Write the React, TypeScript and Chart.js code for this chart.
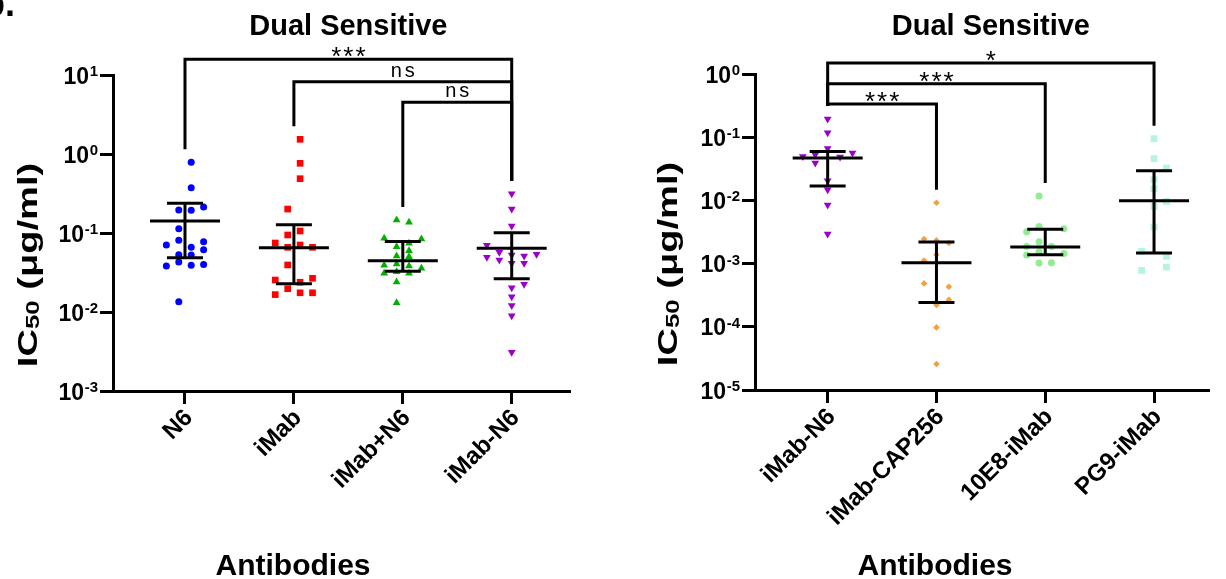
import React, { useEffect, useRef } from 'react';
import { Chart, registerables } from 'chart.js';

Chart.register(...registerables);

const FONT = '"Liberation Sans", Arial, Helvetica, sans-serif';

// ---------- Left panel data ----------
const leftCategories = ['N6', 'iMab', 'iMab+N6', 'iMab-N6'];
const leftYTicks = [1e-3, 1e-2, 1e-1, 1, 10];

const n6Values = [0.785, 0.374, 0.195, 0.194, 0.213, 0.113, 0.081, 0.0705, 0.066, 0.0776, 0.0615, 0.0531, 0.0525, 0.0382, 0.043, 0.039, 0.04, 0.0135];
const n6Cols = [0.5, 0.5, -0.5, 0.5, 1.5, -0.5, -0.5, -1.5, 0.5, 1.5, 1.5, -0.5, 0.5, -1.5, -0.5, 0.5, 1.5, -0.5];

const iMabValues = [1.535, 0.762, 0.487, 0.201, 0.106, 0.0944, 0.0747, 0.0659, 0.0705, 0.0659, 0.0394, 0.0254, 0.0267, 0.0238, 0.0197, 0.0166, 0.0175, 0.0175];
const iMabCols = [0.5, 0.5, 0.5, -0.5, 0.5, -0.5, -1.5, -0.5, 0.5, 1.5, -0.5, -1.5, 1.5, 0.5, -0.5, -1.5, 0.5, 1.5];

const iMabPlusN6Values = [0.146, 0.137, 0.0857, 0.084, 0.067, 0.074, 0.0597, 0.0512, 0.0501, 0.039, 0.0405, 0.0382, 0.0357, 0.0309, 0.0324, 0.0309, 0.024, 0.0131];
const iMabPlusN6Cols = [-0.5, 0.5, -1.5, 1.5, -0.5, 0.5, 0.5, -0.5, 0.5, -1.5, -0.5, 0.5, 1.5, -1.5, -0.5, 0.5, -0.5, -0.5];

const iMabN6LeftValues = [0.314, 0.201, 0.1225, 0.0698, 0.0569, 0.0526, 0.0511, 0.0537, 0.0492, 0.0455, 0.0413, 0.0413, 0.0203, 0.0224, 0.0156, 0.0121, 0.00898, 0.00309];
const iMabN6LeftCols = [0, 0, 0, -2, -1, 0, 1, 2, -2, -1, 0, 1, 0, 1, 0, 0, 0, 0];

const leftMeans = [0.142, 0.065, 0.0446, 0.064];
const leftSDHigh = [0.238, 0.127, 0.078, 0.1007];
const leftSDLow = [0.0487, 0.0228, 0.0327, 0.0264];

const leftComparisons = [
  { from: 0, to: 3, label: '***' },
  { from: 1, to: 3, label: 'ns' },
  { from: 2, to: 3, label: 'ns' },
];

// ---------- Right panel data ----------
const rightCategories = ['iMab-N6', 'iMab-CAP256', '10E8-iMab', 'PG9-iMab'];
const rightYTicks = [1e-5, 1e-4, 1e-3, 1e-2, 1e-1, 1];

const iMabN6RightValues = [0.194, 0.118, 0.0665, 0.0497, 0.0528, 0.0562, 0.0486, 0.0391, 0.0205, 0.0148, 0.00845, 0.00294];
const iMabN6RightCols = [0, 0, 0, -2, -1, 2, 1, -1, 0, 0, 0, 0];

const cap256Values = [0.0092, 0.00245, 0.00233, 0.00212, 0.00138, 0.00112, 0.000486, 0.000431, 0.000268, 0.000221, 0.0000979, 0.0000258];
const cap256Cols = [0, -1, 0, 1, 0, -1, -1, 1, 1, 0, 0, 0];

const e10E8Values = [0.01174, 0.00388, 0.0032, 0.00357, 0.00222, 0.00187, 0.00187, 0.00137, 0.00154, 0.00145, 0.00102, 0.00103];
const e10E8Cols = [-0.5, -0.5, -1.5, 1.5, -0.5, -1.5, 0.5, -1.5, -0.5, 1.5, -0.5, 0.5];

const pg9Values = [0.0947, 0.0457, 0.0326, 0.0213, 0.0153, 0.00964, 0.00804, 0.00379, 0.00156, 0.0013, 0.00078, 0.000883];
const pg9Cols = [0, 0, 1, 0, 0, 1, 0, 0, -1, 1, -1, 1];

const rightMeans = [0.0469, 0.00103, 0.00183, 0.00989];
const rightSDHigh = [0.0596, 0.0022, 0.00348, 0.0295];
const rightSDLow = [0.0169, 0.000243, 0.00138, 0.00147];

const rightComparisons = [
  { from: 0, to: 3, label: '*' },
  { from: 0, to: 2, label: '***' },
  { from: 0, to: 1, label: '***' },
];

const COL_STEP = 0.114;

type Group = { values: number[]; cols: number[]; color: string; style: string; radius: number; rotation?: number };

function buildDatasets(groups: Group[]) {
  return groups.map((g, gi) => ({
    data: g.values.map((v, i) => ({ x: gi + g.cols[i] * COL_STEP, y: v })),
    pointStyle: g.style,
    pointRadius: g.radius,
    pointRotation: g.rotation || 0,
    pointBackgroundColor: g.color,
    pointBorderWidth: 0,
    pointBorderColor: g.color,
    showLine: false,
    clip: false as any,
  }));
}

type PanelCfg = {
  canvasWidth: number;
  groups: Group[];
  categories: string[];
  yTicks: number[];
  yMin: number;
  yMax: number;
  xMin: number;
  xMax: number;
  padTop: number;
  padRight: number;
  yWidth: number;
  xHeight: number;
  means: number[];
  highs: number[];
  lows: number[];
  comparisons: { from: number; to: number; label: string }[];
  bracketOffsets: number[];
  yTitleDx: number;
  showPanelLetter: boolean;
};

function line(ctx: CanvasRenderingContext2D, x1: number, y1: number, x2: number, y2: number) {
  ctx.beginPath();
  ctx.moveTo(x1, y1);
  ctx.lineTo(x2, y2);
  ctx.stroke();
}

function makeDecor(cfg: PanelCfg) {
  return {
    id: 'decor',
    afterDraw(chart: any) {
      const ctx: CanvasRenderingContext2D = chart.ctx;
      const xs = chart.scales.x;
      const ys = chart.scales.y;
      const ca = chart.chartArea;
      ctx.save();
      ctx.strokeStyle = '#000';
      ctx.fillStyle = '#000';
      ctx.lineWidth = 3;
      ctx.lineCap = 'butt';
      ctx.lineJoin = 'miter';

      // mean +/- SD
      cfg.means.forEach((m, i) => {
        const cx = xs.getPixelForValue(i);
        const yM = ys.getPixelForValue(m);
        const yH = ys.getPixelForValue(cfg.highs[i]);
        const yL = ys.getPixelForValue(cfg.lows[i]);
        line(ctx, cx - 35, yM, cx + 35, yM);
        line(ctx, cx, yH, cx, yL);
        line(ctx, cx - 18, yH, cx + 18, yH);
        line(ctx, cx - 18, yL, cx + 18, yL);
      });

      // significance brackets
      cfg.comparisons.forEach((c, k) => {
        const y = ca.top + cfg.bracketOffsets[k];
        const x1 = xs.getPixelForValue(c.from);
        const x2 = xs.getPixelForValue(c.to);
        const top1 = ys.getPixelForValue(Math.max(...cfg.groups[c.from].values)) - 13;
        const top2 = ys.getPixelForValue(Math.max(...cfg.groups[c.to].values)) - 13;
        ctx.beginPath();
        ctx.moveTo(x1, top1);
        ctx.lineTo(x1, y);
        ctx.lineTo(x2, y);
        ctx.lineTo(x2, top2);
        ctx.stroke();
        const mid = (x1 + x2) / 2;
        ctx.textAlign = 'center';
        ctx.textBaseline = 'alphabetic';
        if (c.label.indexOf('*') >= 0) {
          ctx.font = `26px ${FONT}`;
          (ctx as any).letterSpacing = '2px';
          ctx.fillText(c.label, mid + 1, y + 6);
        } else {
          ctx.font = `20px ${FONT}`;
          (ctx as any).letterSpacing = '3px';
          ctx.fillText(c.label, mid + 1.5, y - 5);
        }
        (ctx as any).letterSpacing = '0px';
      });

      // y tick labels with superscript exponents
      cfg.yTicks.forEach((v) => {
        const exp = Math.round(Math.log10(v));
        const y = ys.getPixelForValue(v);
        const right = ca.left - 15;
        ctx.textAlign = 'right';
        ctx.textBaseline = 'alphabetic';
        ctx.font = `bold 15px ${FONT}`;
        const expStr = exp < 0 ? '-' + String(-exp) : String(exp);
        const ew = ctx.measureText(expStr).width;
        ctx.fillText(expStr, right, y + 1);
        ctx.font = `bold 23px ${FONT}`;
        ctx.fillText('10', right - ew - 0.5, y + 8.5);
      });

      // title
      const cMid = (xs.getPixelForValue(0) + xs.getPixelForValue(cfg.categories.length - 1)) / 2;
      ctx.textAlign = 'center';
      ctx.textBaseline = 'alphabetic';
      ctx.font = `bold 29px ${FONT}`;
      ctx.fillText('Dual Sensitive', cMid, 35);

      // x title
      ctx.font = `bold 30px ${FONT}`;
      ctx.fillText('Antibodies', ca.left + 180, 575);

      // y title (rotated, with subscript)
      ctx.save();
      ctx.translate(ca.left + cfg.yTitleDx, ca.top + 190);
      ctx.rotate(-Math.PI / 2);
      ctx.scale(1.36, 1);
      ctx.textAlign = 'left';
      ctx.font = `bold 28px ${FONT}`;
      const wIC = ctx.measureText('IC').width;
      const rest = ' (\u03bcg/ml)';
      const wRest = ctx.measureText(rest).width;
      ctx.font = `bold 19px ${FONT}`;
      const wSub = ctx.measureText('50').width;
      const total = wIC + wSub + wRest;
      let x0 = -total / 2;
      ctx.font = `bold 28px ${FONT}`;
      ctx.fillText('IC', x0, 0);
      x0 += wIC;
      ctx.font = `bold 19px ${FONT}`;
      ctx.fillText('50', x0, 2);
      x0 += wSub;
      ctx.font = `bold 28px ${FONT}`;
      ctx.fillText(rest, x0, 0);
      ctx.restore();

      if (cfg.showPanelLetter) {
        ctx.textAlign = 'left';
        ctx.font = `bold 36px ${FONT}`;
        ctx.fillText('b.', -17, 16);
      }
      ctx.restore();
    },
  };
}

function Panel({ cfg, left }: { cfg: PanelCfg; left: number }) {
  const ref = useRef<HTMLCanvasElement | null>(null);
  useEffect(() => {
    if (!ref.current) return;
    const axisCommon = {
      grid: { drawOnChartArea: false, drawTicks: true, tickLength: 13, color: '#000', lineWidth: 3 },
      border: { display: true, color: '#000', width: 3 },
    };
    const chart = new Chart(ref.current, {
      type: 'scatter',
      data: { datasets: buildDatasets(cfg.groups) as any },
      options: {
        responsive: false,
        animation: false,
        devicePixelRatio: 1,
        layout: { padding: { left: 0, right: cfg.padRight, top: cfg.padTop, bottom: 0 } },
        plugins: { legend: { display: false }, tooltip: { enabled: false }, title: { display: false } },
        scales: {
          x: {
            type: 'linear',
            min: cfg.xMin,
            max: cfg.xMax,
            afterBuildTicks: (s: any) => {
              s.ticks = cfg.categories.map((_, i) => ({ value: i }));
            },
            afterFit: (s: any) => {
              s.height = cfg.xHeight;
            },
            ticks: {
              autoSkip: false,
              maxRotation: 45,
              minRotation: 45,
              padding: 0,
              labelOffset: 4,
              color: '#000',
              font: { family: FONT, size: 24, weight: 'bold' },
              callback: (_v: any, i: number) => cfg.categories[i],
            },
            ...axisCommon,
          },
          y: {
            type: 'logarithmic',
            min: cfg.yMin,
            max: cfg.yMax,
            afterBuildTicks: (s: any) => {
              s.ticks = cfg.yTicks.map((v) => ({ value: v }));
            },
            afterFit: (s: any) => {
              s.width = cfg.yWidth;
            },
            ticks: { callback: () => '', color: '#000' },
            ...axisCommon,
          },
        } as any,
      },
      plugins: [makeDecor(cfg)],
    });
    return () => chart.destroy();
  }, []);
  return (
    <canvas
      ref={ref}
      width={cfg.canvasWidth}
      height={579}
      style={{ position: 'absolute', left, top: 0, width: cfg.canvasWidth, height: 579 }}
    />
  );
}

const leftGroups: Group[] = [
  { values: n6Values, cols: n6Cols, color: '#0000ff', style: 'circle', radius: 3.5 },
  { values: iMabValues, cols: iMabCols, color: '#ff0000', style: 'rect', radius: 4.7 },
  { values: iMabPlusN6Values, cols: iMabPlusN6Cols, color: '#00b000', style: 'triangle', radius: 4.5 },
  { values: iMabN6LeftValues, cols: iMabN6LeftCols, color: '#9900cc', style: 'triangle', radius: 4.5, rotation: 180 },
];

const rightGroups: Group[] = [
  { values: iMabN6RightValues, cols: iMabN6RightCols, color: '#9900cc', style: 'triangle', radius: 4.5, rotation: 180 },
  { values: cap256Values, cols: cap256Cols, color: '#f5a040', style: 'rectRot', radius: 3.3 },
  { values: e10E8Values, cols: e10E8Cols, color: '#90ee90', style: 'circle', radius: 3.5 },
  { values: pg9Values, cols: pg9Cols, color: '#b4f5e2', style: 'rect', radius: 4.8 },
];

const leftCfg: PanelCfg = {
  canvasWidth: 613,
  groups: leftGroups,
  categories: leftCategories,
  yTicks: leftYTicks,
  yMin: 1e-3,
  yMax: 10,
  xMin: -0.661,
  xMax: 3.526,
  padTop: 75,
  padRight: 44,
  yWidth: 113,
  xHeight: 188,
  means: leftMeans,
  highs: leftSDHigh,
  lows: leftSDLow,
  comparisons: leftComparisons,
  bracketOffsets: [-15.7, 6.7, 27.3],
  yTitleDx: -76,
  showPanelLetter: true,
};

const rightCfg: PanelCfg = {
  canvasWidth: 613,
  groups: rightGroups,
  categories: rightCategories,
  yTicks: rightYTicks,
  yMin: 1e-5,
  yMax: 1,
  xMin: -0.668,
  xMax: 3.496,
  padTop: 74,
  padRight: 18,
  yWidth: 142,
  xHeight: 189,
  means: rightMeans,
  highs: rightSDHigh,
  lows: rightSDLow,
  comparisons: rightComparisons,
  bracketOffsets: [-11, 9.7, 30],
  yTitleDx: -78,
  showPanelLetter: false,
};

export default function App() {
  return (
    <div style={{ position: 'fixed', left: 0, top: 0, width: 1226, height: 579, background: '#fff', overflow: 'hidden' }}>
      <Panel cfg={leftCfg} left={0} />
      <Panel cfg={rightCfg} left={613} />
    </div>
  );
}
